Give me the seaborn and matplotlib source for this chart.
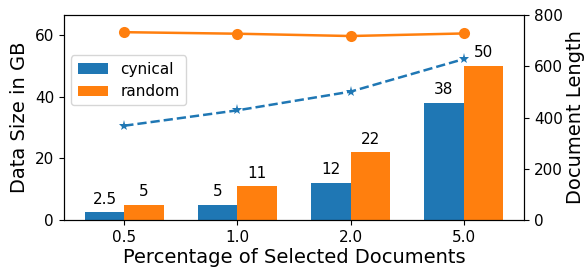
import pandas as pd
import seaborn as sns
import matplotlib.pyplot as plt

# Dados
percentuais = ["0.5", "1.0", "2.0", "5.0"]
tamanho_cynical = [2.5, 5, 12, 38]
tamanho_random = [5, 11, 22, 50]
rotulos_cynical = ["2.5", "5", "12", "38"]
rotulos_random = ["5", "11", "22", "50"]
comprimento_cynical = [368, 428, 501, 628]
comprimento_random = [733, 727, 718, 728]

azul = "#1f77b4"
laranja = "#ff7f0e"

df = pd.DataFrame({
    "pct": percentuais * 2,
    "tamanho": tamanho_cynical + tamanho_random,
    "metodo": ["cynical"] * 4 + ["random"] * 4,
})

fig, ax = plt.subplots(figsize=(5.85, 2.68), dpi=100)
sns.barplot(data=df, x="pct", y="tamanho", hue="metodo",
            palette=[azul, laranja], width=0.7, saturation=1, ax=ax)

# rótulos em cima das barras
for cont, rots in zip(ax.containers, [rotulos_cynical, rotulos_random]):
    ax.bar_label(cont, labels=rots, padding=4, fontsize=11)

ax.set_ylim(0, 66.5)
ax.set_yticks([0, 20, 40, 60])
ax.set_xlim(-0.535, 3.535)
ax.set_xlabel("Percentage of Selected Documents", fontsize=14, labelpad=2)
ax.set_ylabel("Data Size in GB", fontsize=14)
ax.tick_params(labelsize=11)
ax.legend(loc="upper left", bbox_to_anchor=(0.0, 0.84), fontsize=11)

# eixo secundário: comprimento dos documentos
ax2 = ax.twinx()
pos = list(range(len(percentuais)))
sns.lineplot(x=pos, y=comprimento_random, color=laranja, marker="o",
             markersize=8, markeredgewidth=0, linewidth=1.8, ax=ax2)
sns.lineplot(x=pos, y=comprimento_cynical, color=azul, marker="*",
             markersize=8, markeredgewidth=0, linestyle="--", linewidth=1.8, ax=ax2)
ax2.set_ylim(0, 800)
ax2.set_yticks([0, 200, 400, 600, 800])
ax2.set_ylabel("Document Length", fontsize=14, labelpad=2)
ax2.tick_params(labelsize=11)

plt.subplots_adjust(left=0.109, right=0.896, bottom=0.179, top=0.944)
plt.savefig("out.png")
plt.close()
